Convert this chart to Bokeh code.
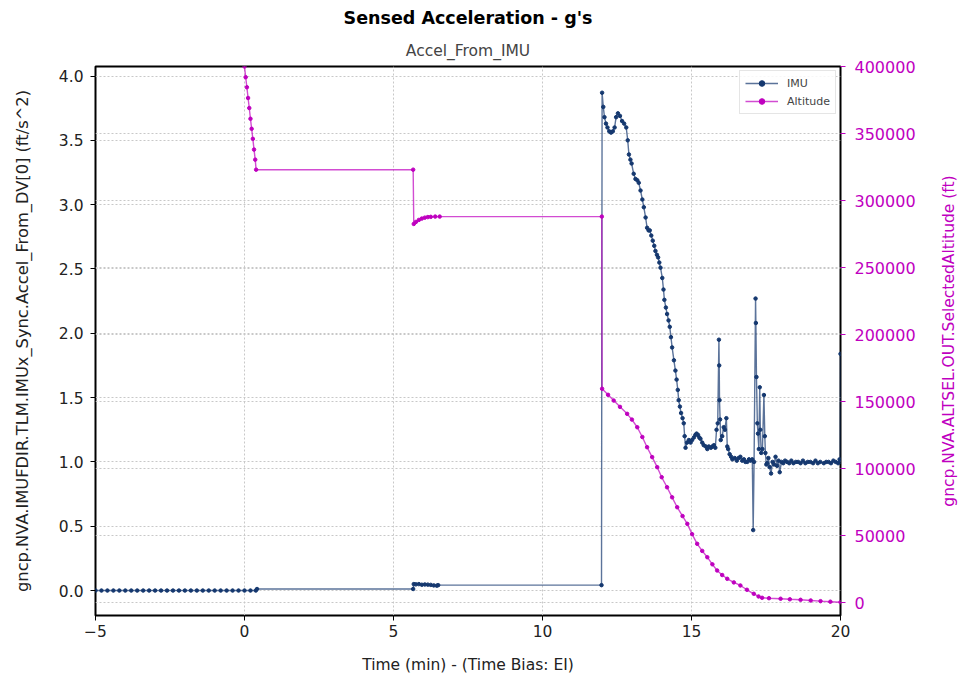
from bokeh.plotting import figure
from bokeh.layouts import row
from bokeh.models import (Range1d, LinearAxis, Grid, Title, Legend, LegendItem,
                          FixedTicker, ColumnDataSource, BasicTickFormatter,
                          CustomJSTickFormatter)
from bokeh.embed import file_html
from bokeh.resources import INLINE

# ---------------- data ----------------
imu_t = [-5.0, -4.8, -4.6, -4.4, -4.2, -4.0, -3.8, -3.6, -3.4, -3.2, -3.0, -2.8, -2.6,
         -2.4, -2.2, -2.0, -1.8, -1.6, -1.4, -1.2, -1.0, -0.8, -0.6, -0.4, -0.2, 0.0,
         0.2, 0.38, 0.42, 5.66,
         5.68, 5.75, 5.85, 5.95, 6.05, 6.15, 6.25, 6.35, 6.45, 6.5, 11.98,
         12.00, 12.04, 12.08, 12.13, 12.18, 12.24, 12.30, 12.36, 12.42, 12.47, 12.53,
         12.60, 12.67, 12.74, 12.81, 12.86, 12.90, 12.95, 12.99, 13.06, 13.12, 13.18,
         13.23, 13.29, 13.35, 13.40, 13.46, 13.51, 13.56, 13.60, 13.65, 13.70, 13.75,
         13.79, 13.84, 13.88, 13.92, 13.96, 14.02, 14.06, 14.09, 14.14, 14.18, 14.23,
         14.27, 14.31, 14.35, 14.41, 14.46, 14.50, 14.54, 14.57, 14.61, 14.65, 14.70,
         14.74, 14.77, 14.80, 14.85, 14.91, 14.97, 15.02, 15.08, 15.13, 15.17, 15.22,
         15.26, 15.30, 15.36, 15.41, 15.48, 15.53, 15.58, 15.65, 15.70, 15.75, 15.80,
         15.84, 15.88, 15.92, 15.93, 15.94, 15.96, 15.98, 16.03, 16.08, 16.12, 16.17,
         16.20, 16.23, 16.28, 16.33, 16.37, 16.45, 16.52, 16.58, 16.64, 16.70, 16.76,
         16.81, 16.87, 16.93, 16.98, 17.04, 17.07, 17.10, 17.15, 17.16, 17.18, 17.21,
         17.23, 17.26, 17.29, 17.31, 17.34, 17.38, 17.43, 17.46, 17.48, 17.51, 17.54,
         17.58, 17.62, 17.67, 17.72, 17.77, 17.82, 17.87, 17.92, 17.96, 18.02, 18.08,
         18.14, 18.21, 18.28, 18.35, 18.42, 18.50, 18.58, 18.66, 18.74, 18.82, 18.90,
         18.99, 19.08, 19.16, 19.24, 19.32, 19.44, 19.52, 19.60, 19.68, 19.76, 19.84,
         19.92, 19.97, 19.99, 20.00]
imu_g = [0.0, 0.0, 0.0, 0.0, 0.0, 0.0, 0.0, 0.0, 0.0, 0.0, 0.0, 0.0, 0.0,
         0.0, 0.0, 0.0, 0.0, 0.0, 0.0, 0.0, 0.0, 0.0, 0.0, 0.0, 0.0, 0.0,
         0.0, 0.0, 0.012, 0.012,
         0.05, 0.048, 0.05, 0.045, 0.047, 0.046, 0.044, 0.04, 0.038, 0.042, 0.042,
         3.87, 3.76, 3.68, 3.63, 3.60, 3.57, 3.56, 3.57, 3.60, 3.68, 3.71,
         3.69, 3.65, 3.63, 3.60, 3.50, 3.39, 3.35, 3.32, 3.24, 3.20, 3.19,
         3.17, 3.11, 3.04, 2.98, 2.90, 2.82, 2.80, 2.80, 2.76, 2.72, 2.68,
         2.64, 2.61, 2.59, 2.55, 2.51, 2.43, 2.34, 2.26, 2.20, 2.15, 2.10,
         2.05, 1.97, 1.89, 1.79, 1.71, 1.64, 1.56, 1.48, 1.43, 1.38, 1.34,
         1.30, 1.20, 1.11, 1.15, 1.17, 1.15, 1.17, 1.19, 1.21, 1.22, 1.21,
         1.19, 1.18, 1.15, 1.13, 1.12, 1.10, 1.12, 1.11, 1.12, 1.13, 1.11,
         1.25, 1.30, 1.95, 1.75, 1.48, 1.33, 1.17, 1.20, 1.27, 1.25, 1.34,
         1.12, 1.10, 1.06, 1.04, 1.02, 1.03, 1.01, 1.03, 1.04, 1.01, 1.02,
         1.00, 1.00, 1.02, 1.01, 1.02, 0.47, 1.00, 2.27, 2.08, 1.66, 1.30,
         1.22, 1.10, 1.58, 1.25, 1.07, 1.10, 1.52, 1.20, 1.07, 0.98, 0.99,
         1.03, 0.96, 0.91, 1.00, 0.98, 1.04, 0.97, 1.01, 0.92, 1.00, 0.99,
         1.01, 1.00, 0.99, 1.01, 0.99, 1.00, 1.00, 0.99, 1.01, 0.99, 1.00,
         1.00, 0.99, 1.01, 0.99, 1.00, 0.99, 1.00, 1.00, 0.99, 1.01, 1.00,
         0.99, 1.02, 1.00, 1.84]

alt_t = [0.00, 0.04, 0.08, 0.12, 0.16, 0.20, 0.24, 0.28, 0.32, 0.36, 0.39,
         5.66, 5.68, 5.75, 5.85, 5.95, 6.05, 6.15, 6.25, 6.40, 6.55, 11.99,
         12.00, 12.20, 12.39, 12.60, 12.84, 13.00, 13.18, 13.35, 13.51, 13.68,
         13.85, 14.00, 14.18, 14.35, 14.52, 14.70, 14.86, 15.02, 15.19, 15.36,
         15.53, 15.70, 15.86, 16.03, 16.20, 16.42, 16.64, 16.86, 17.09, 17.25,
         17.37, 17.60, 17.99, 18.30, 18.66, 19.00, 19.33, 19.66, 20.00]
alt_ft = [400000, 392000, 384500, 376500, 369000, 361000, 353500, 346000, 338000, 330500, 323000,
          323000, 282500, 284000, 285500, 286500, 287200, 287600, 287800, 288000, 288000, 288000,
          159500, 155000, 150700, 146000, 140800, 136500, 130800, 123500, 115900, 108500,
          101000, 93500, 86000, 78500, 71100, 64500, 58700, 51000, 43800, 38500,
          33800, 28500, 23900, 20500, 17700, 15000, 12700, 9500, 6500, 4500,
          3500, 3200, 2800, 2400, 2000, 1500, 1000, 600, 200]

x_ticks = [-5, 0, 5, 10, 15, 20]
left_ticks = [0.0, 0.5, 1.0, 1.5, 2.0, 2.5, 3.0, 3.5, 4.0]
right_ticks = [0, 50000, 100000, 150000, 200000, 250000, 300000, 350000, 400000]

# ---------------- styling ----------------
NAVY = "#15386f"
MAG = "#bf00bf"
FONT = "DejaVu Sans"
TICK_FS = "15.5px"
LABEL_FS = "15.5px"
VLABEL_FS = "16.3px"
TOP, BOTTOM, H = 66, 68, 683

p = figure(width=920, height=H, output_backend="svg", toolbar_location=None,
           x_range=Range1d(-5, 20), y_range=Range1d(-0.194, 4.074),
           min_border_left=95, min_border_right=80, min_border_top=TOP,
           min_border_bottom=BOTTOM, title=None)
p.extra_y_ranges = {"alt": Range1d(-9700, 400000)}

p.outline_line_color = "black"
p.outline_line_width = 2
p.background_fill_color = "white"
p.border_fill_color = "white"

for ax in (p.xaxis[0], p.yaxis[0]):
    ax.axis_line_color = None
    ax.major_tick_out = 5
    ax.major_tick_in = 0
    ax.minor_tick_line_color = None
    ax.major_tick_line_color = "black"
    ax.major_label_text_font = FONT
    ax.major_label_text_font_size = TICK_FS
    ax.major_label_text_color = "#222222"
    ax.axis_label_text_font = FONT
    ax.axis_label_text_font_style = "normal"
    ax.axis_label_text_color = "#222222"

p.xaxis[0].ticker = FixedTicker(ticks=x_ticks)
p.xaxis[0].axis_label = "Time (min) - (Time Bias: EI)"
p.xaxis[0].axis_label_text_font_size = LABEL_FS
p.xaxis[0].major_label_standoff = 4
p.xaxis[0].axis_label_standoff = 16

p.yaxis[0].ticker = FixedTicker(ticks=left_ticks)
p.yaxis[0].axis_label = "gncp.NVA.IMUFDIR.TLM.IMUx_Sync.Accel_From_DV[0] (ft/s^2)"
p.yaxis[0].axis_label_text_font_size = VLABEL_FS
p.yaxis[0].major_label_standoff = 7
p.yaxis[0].axis_label_standoff = 24
p.yaxis[0].formatter = CustomJSTickFormatter(code="return tick.toFixed(1);")

ra = LinearAxis(y_range_name="alt", ticker=FixedTicker(ticks=right_ticks),
                formatter=BasicTickFormatter(use_scientific=False))
ra.axis_line_color = None
ra.major_tick_out = 5
ra.major_tick_in = 0
ra.minor_tick_line_color = None
ra.major_tick_line_color = MAG
ra.major_label_text_color = MAG
ra.major_label_text_font = FONT
ra.major_label_text_font_size = "16px"
ra.major_label_standoff = 9
p.add_layout(ra, "right")

for g in p.grid:
    g.grid_line_color = "#c8c8c8"
    g.grid_line_dash = "2 2"
    g.grid_line_width = 1
p.xgrid[0].ticker = FixedTicker(ticks=x_ticks)
p.ygrid[0].ticker = FixedTicker(ticks=left_ticks)
g2 = Grid(dimension=1, ticker=FixedTicker(ticks=right_ticks), y_range_name="alt",
          grid_line_color="#c8c8c8", grid_line_dash="2 2", grid_line_width=1)
p.add_layout(g2, "center")

sub = Title(text="Accel_From_IMU", align="center", text_font=FONT,
            text_font_size=LABEL_FS, text_font_style="normal",
            text_color="#444444", standoff=13)
p.add_layout(sub, "above")
main = Title(text="Sensed Acceleration - g's", align="center", text_font=FONT,
             text_font_size="17.5px", text_font_style="bold",
             text_color="black", standoff=11)
p.add_layout(main, "above")

imu_src = ColumnDataSource(dict(t=imu_t, g=imu_g))
alt_src = ColumnDataSource(dict(t=alt_t, a=alt_ft))

l1 = p.line("t", "g", source=imu_src, line_color=NAVY, line_width=1.4, line_alpha=0.7)
m1 = p.scatter("t", "g", source=imu_src, marker="circle", size=3.5,
               fill_color=NAVY, line_color=NAVY)
l2 = p.line("t", "a", source=alt_src, y_range_name="alt", line_color=MAG,
            line_width=1.4, line_alpha=0.7)
m2 = p.scatter("t", "a", source=alt_src, y_range_name="alt", marker="circle",
               size=3.5, fill_color=MAG, line_color=MAG)

legend = Legend(items=[LegendItem(label="IMU", renderers=[l1, m1]),
                       LegendItem(label="Altitude", renderers=[l2, m2])],
                location="top_right")
legend.label_text_font = FONT
legend.label_text_font_size = "11px"
legend.label_height = 14
legend.glyph_height = 14
legend.glyph_width = 33
legend.label_standoff = 9
legend.spacing = 4
legend.padding = 5
legend.margin = 4
legend.border_line_color = "#cccccc"
legend.border_line_width = 1
legend.background_fill_alpha = 0.85
p.add_layout(legend, "center")

# narrow companion figure carrying the right-hand axis title (reads bottom-to-top)
p2 = figure(width=40, height=H, output_backend="svg", toolbar_location=None,
            x_axis_location=None, y_axis_location=None, title=None,
            x_range=Range1d(0, 1), y_range=Range1d(0, 1),
            min_border_left=39, min_border_right=0, min_border_top=TOP,
            min_border_bottom=BOTTOM)
p2.outline_line_color = None
p2.grid.visible = False
p2.background_fill_color = "white"
p2.border_fill_color = "white"
r_title = Title(text="gncp.NVA.ALTSEL.OUT.SelectedAltitude (ft)", align="center",
                text_font=FONT, text_font_size="15.5px", text_font_style="normal",
                text_color=MAG, standoff=4)
p2.add_layout(r_title, "left")

layout = row(p, p2, spacing=0)
open("out.html", "w").write(file_html(layout, INLINE))
